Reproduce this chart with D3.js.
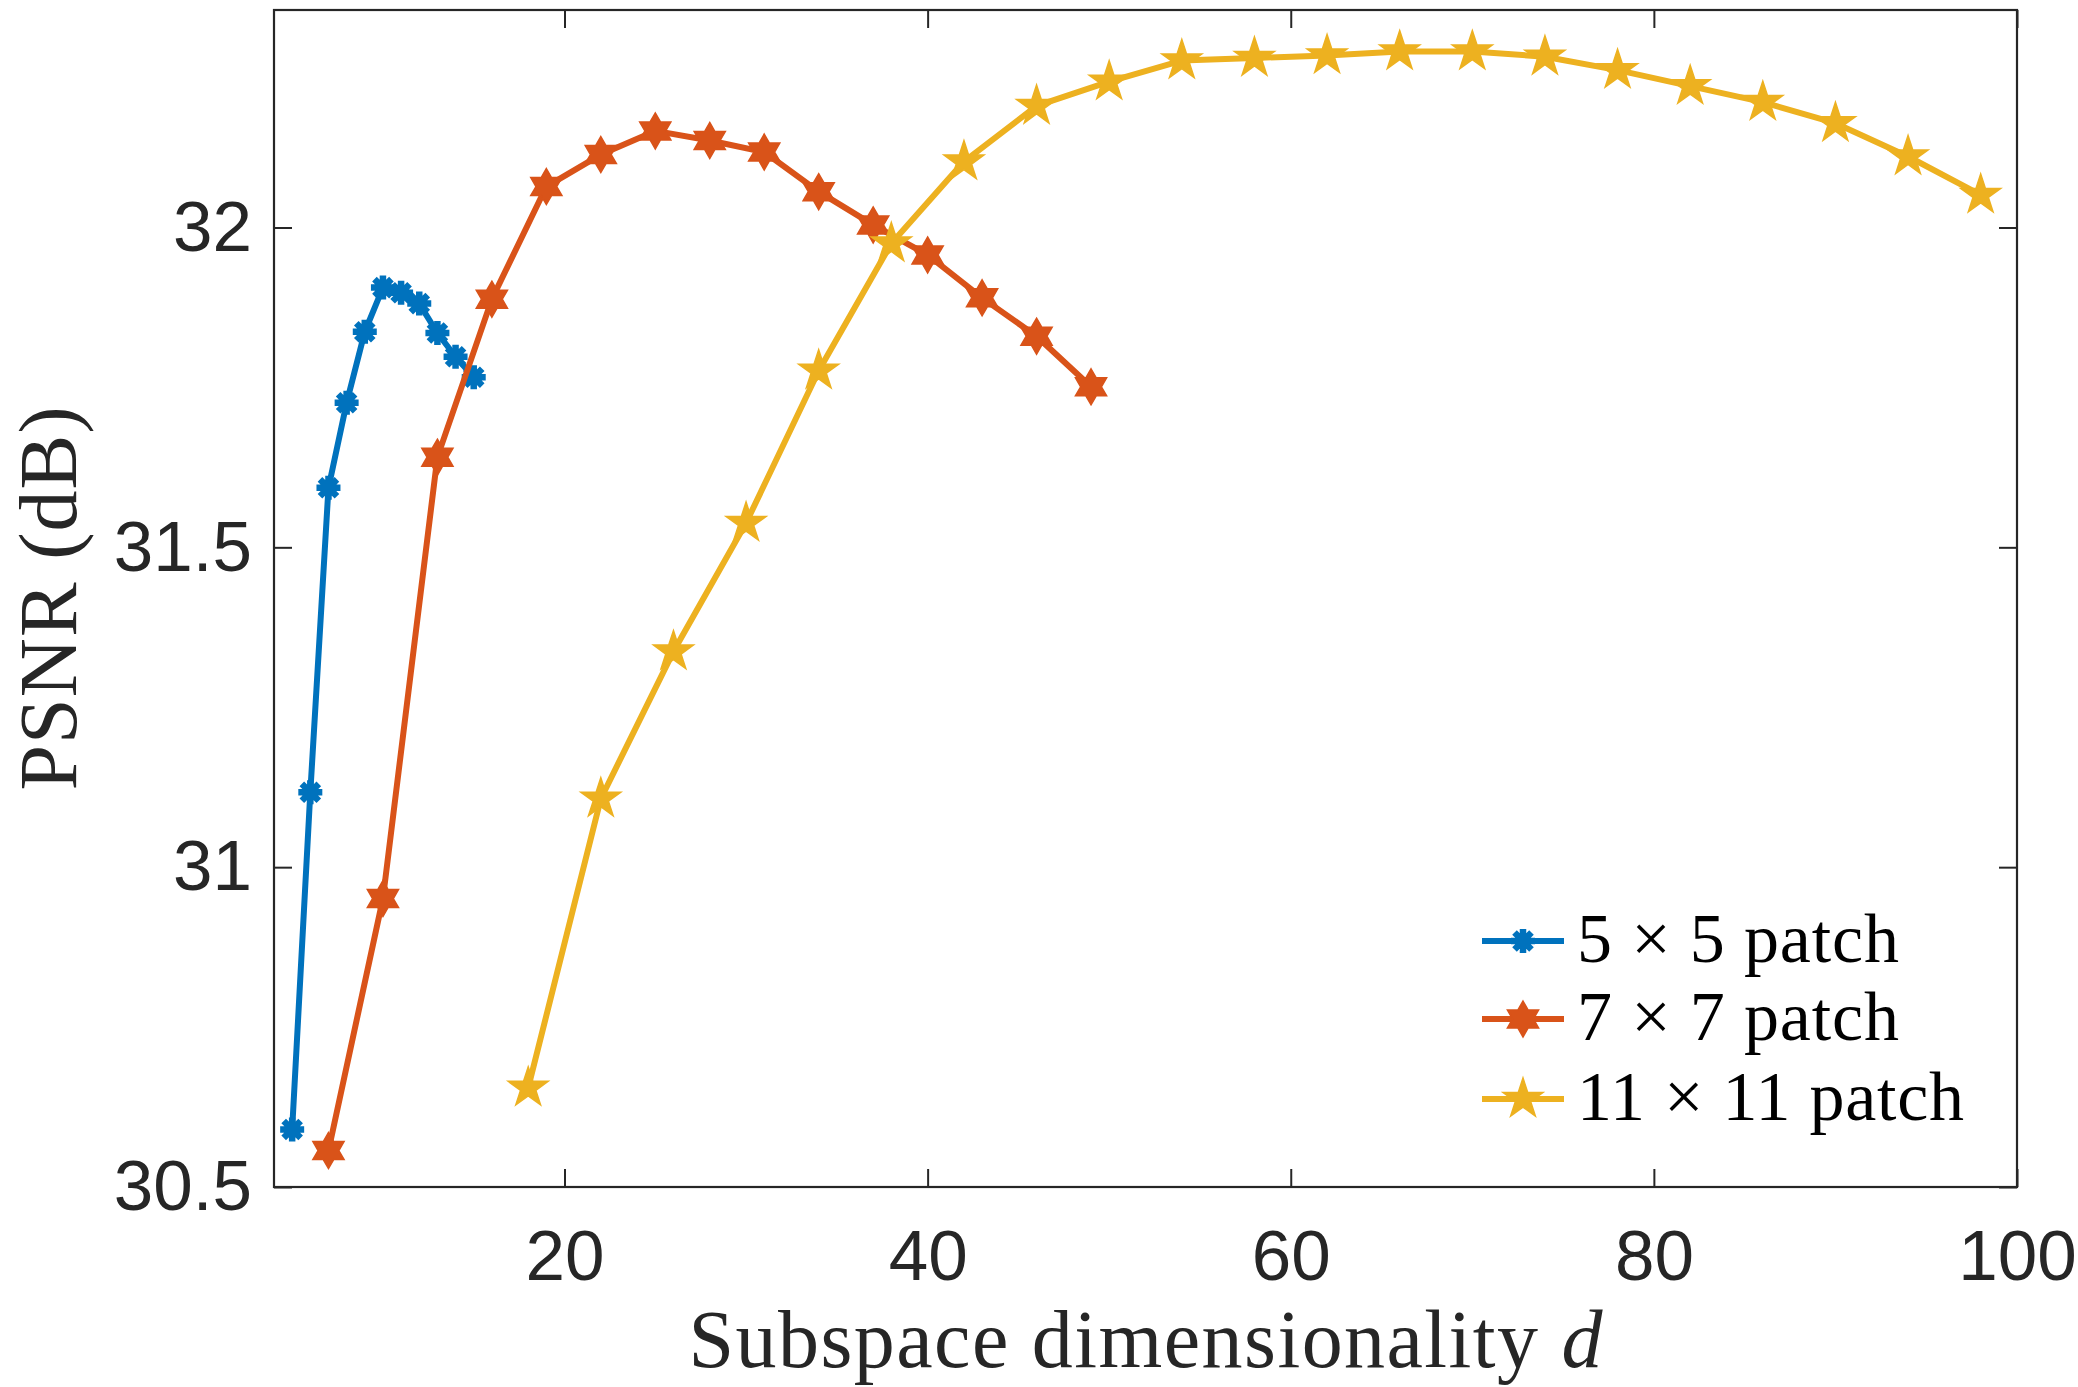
<!DOCTYPE html>
<html>
<head>
<meta charset="utf-8">
<script src="https://cdn.jsdelivr.net/npm/d3@7"></script>
<style>
  html, body { margin: 0; padding: 0; background: #fff; }
  svg { display: block; }
</style>
</head>
<body>
<svg id="chart" width="2078" height="1387"></svg>
<script>
// ---- data ----
const seriesNames = ["5 \u00d7 5 patch", "7 \u00d7 7 patch", "11 \u00d7 11 patch"];
const xTicks = [20, 40, 60, 80, 100];
const yTicks = [30.5, 31, 31.5, 32];

const x5 = [5, 6, 7, 8, 9, 10, 11, 12, 13, 14, 15];
const y5 = [30.59, 31.117, 31.593, 31.726, 31.837, 31.906, 31.898, 31.881, 31.835, 31.798, 31.766];

const x7 = [7, 10, 13, 16, 19, 22, 25, 28, 31, 34, 37, 40, 43, 46, 49];
const y7 = [30.557, 30.951, 31.641, 31.888, 32.064, 32.114, 32.151, 32.136, 32.118, 32.056, 32.004, 31.957, 31.890, 31.830, 31.751];

const x11 = [18, 22, 26, 30, 34, 38, 42, 46, 50, 54, 58, 62, 66, 70, 74, 78, 82, 86, 90, 94, 98];
const y11 = [30.655, 31.107, 31.337, 31.538, 31.776, 31.975, 32.103, 32.190, 32.228, 32.261, 32.265, 32.269, 32.275, 32.275, 32.267, 32.246, 32.221, 32.196, 32.163, 32.111, 32.051];

// ---- layout ----
const W = 2078, H = 1387;
const L = 274, R = 2017, T = 10, B = 1187;
const colors = ["#0072BD", "#D95319", "#EDB120"];
const markerTypes = ["asterisk", "hexagram", "pentagram"];

const svg = d3.select("#chart");
svg.append("rect").attr("width", W).attr("height", H).attr("fill", "#fff");

const x = d3.scaleLinear().domain([4, 100]).range([L, R]);
const y = d3.scaleLinear().domain([30.5, 32.34]).range([B, T]);

// marker path generators
function starPath(n, rOuter, rInner, rot) {
  const pts = [];
  for (let i = 0; i < 2 * n; i++) {
    const r = i % 2 === 0 ? rOuter : rInner;
    const a = rot + i * Math.PI / n;
    pts.push([r * Math.cos(a), r * Math.sin(a)]);
  }
  return "M" + pts.map(p => p[0].toFixed(2) + "," + p[1].toFixed(2)).join("L") + "Z";
}
function asteriskPath(r) {
  const a = r * Math.SQRT1_2;
  return `M${-r},0L${r},0M0,${-r}L0,${r}M${-a},${-a}L${a},${a}M${-a},${a}L${a},${-a}`;
}
const markerDef = {
  asterisk: { d: asteriskPath(12), fill: false, sw: 6.5 },
  hexagram: { d: starPath(6, 18, 18 * 0.577, -Math.PI / 2), fill: true, sw: 1.5 },
  pentagram: { d: starPath(5, 21, 21 * 0.382, -Math.PI / 2), fill: true, sw: 1.5 }
};

function drawMarker(g, mx, my, type, color) {
  const m = markerDef[type];
  g.append("path")
    .attr("d", m.d)
    .attr("transform", `translate(${mx},${my})`)
    .attr("fill", m.fill ? color : "none")
    .attr("stroke", color)
    .attr("stroke-width", m.sw)
    .attr("stroke-linejoin", "miter");
}

// ---- axes (box with inward ticks on all sides) ----
const axisColor = "#262626";
const tickFont = "'Liberation Sans', Arial, Helvetica, sans-serif";

const gx = svg.append("g").attr("transform", `translate(0,${B})`)
  .call(d3.axisBottom(x).tickValues(xTicks).tickSize(-18).tickPadding(43).tickFormat(d3.format("d")));
const gxTop = svg.append("g").attr("transform", `translate(0,${T})`)
  .call(d3.axisTop(x).tickValues(xTicks).tickSize(-18).tickFormat(""));
const gy = svg.append("g").attr("transform", `translate(${L},0)`)
  .call(d3.axisLeft(y).tickValues(yTicks).tickSize(-18).tickPadding(22).tickFormat(d3.format("")));
const gyRight = svg.append("g").attr("transform", `translate(${R},0)`)
  .call(d3.axisRight(y).tickValues(yTicks).tickSize(-18).tickFormat(""));

[gx, gxTop, gy, gyRight].forEach(g => {
  g.select(".domain").remove();
  g.selectAll(".tick line").attr("stroke", axisColor).attr("stroke-width", 2);
  g.selectAll("text").attr("fill", axisColor).style("font-family", tickFont).style("font-size", "71px");
});

svg.append("rect")
  .attr("x", L).attr("y", T).attr("width", R - L).attr("height", B - T)
  .attr("fill", "none").attr("stroke", axisColor).attr("stroke-width", 2.2);

// ---- series ----
const series = [
  { xs: x5, ys: y5 },
  { xs: x7, ys: y7 },
  { xs: x11, ys: y11 }
];
const line = d3.line().x(d => x(d[0])).y(d => y(d[1]));

series.forEach((s, i) => {
  const pts = s.xs.map((v, j) => [v, s.ys[j]]);
  const g = svg.append("g");
  g.append("path").attr("d", line(pts))
    .attr("fill", "none").attr("stroke", colors[i]).attr("stroke-width", 6)
    .attr("stroke-linejoin", "round");
  pts.forEach(p => drawMarker(g, x(p[0]), y(p[1]), markerTypes[i], colors[i]));
});

// ---- labels ----
const serif = "'Liberation Serif', 'Times New Roman', serif";
const xl = svg.append("text")
  .attr("x", (L + R) / 2).attr("y", 1367)
  .attr("text-anchor", "middle")
  .attr("textLength", 914).attr("lengthAdjust", "spacing")
  .style("font-family", serif).style("font-size", "82px").attr("fill", "#262626");
xl.append("tspan").text("Subspace dimensionality ");
xl.append("tspan").attr("font-style", "italic").text("d");

svg.append("text")
  .attr("transform", `translate(76,${(T + B) / 2}) rotate(-90)`)
  .attr("text-anchor", "middle")
  .attr("textLength", 384).attr("lengthAdjust", "spacing")
  .style("font-family", serif).style("font-size", "82px").attr("fill", "#262626")
  .text("PSNR (dB)");

// ---- legend ----
const legY = [941, 1019, 1099];
const legTextW = [322, 322, 387];
seriesNames.forEach((name, i) => {
  const g = svg.append("g");
  g.append("line").attr("x1", 1482).attr("x2", 1564).attr("y1", legY[i]).attr("y2", legY[i])
    .attr("stroke", colors[i]).attr("stroke-width", 6);
  drawMarker(g, 1523, legY[i], markerTypes[i], colors[i]);
  g.append("text").attr("x", 1577).attr("y", legY[i] + 21)
    .attr("textLength", legTextW[i]).attr("lengthAdjust", "spacing")
    .style("font-family", serif).style("font-size", "70px").attr("fill", "#000")
    .text(name);
});
</script>
</body>
</html>
